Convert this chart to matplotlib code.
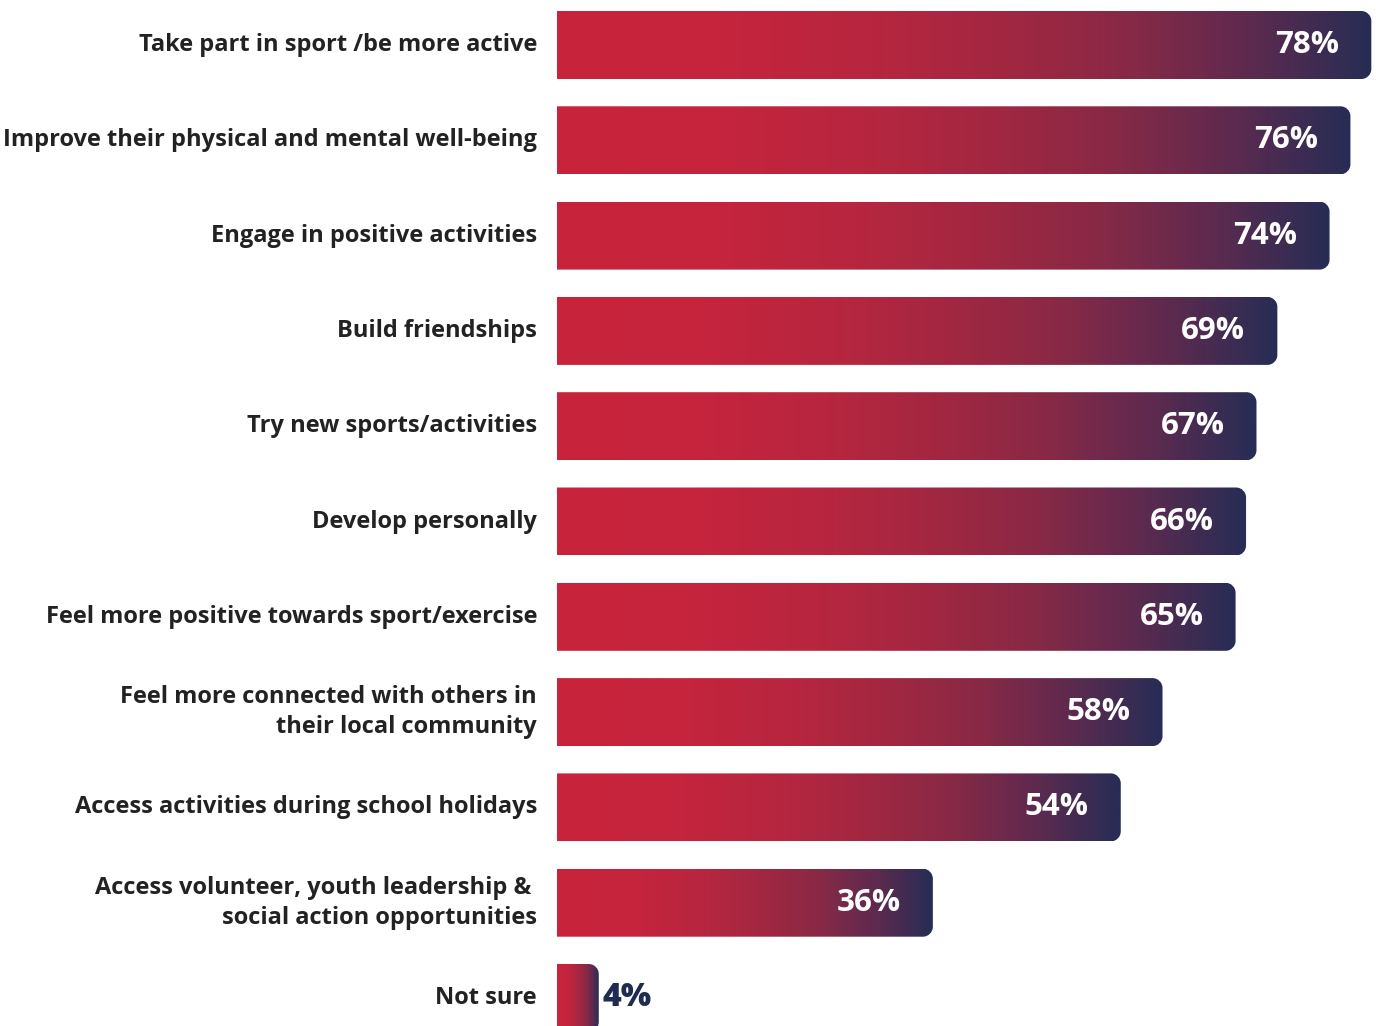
import matplotlib
matplotlib.use("Agg")
import matplotlib.pyplot as plt
import numpy as np
from matplotlib.colors import LinearSegmentedColormap
from matplotlib.path import Path
from matplotlib.patches import PathPatch

categories = [
    "Take part in sport /be more active",
    "Improve their physical and mental well-being",
    "Engage in positive activities",
    "Build friendships",
    "Try new sports/activities",
    "Develop personally",
    "Feel more positive towards sport/exercise",
    "Feel more connected with others in\ntheir local community",
    "Access activities during school holidays",
    "Access volunteer, youth leadership & \nsocial action opportunities",
    "Not sure",
]
values = [78, 76, 74, 69, 67, 66, 65, 58, 54, 36, 4]
value_labels = ["78%", "76%", "74%", "69%", "67%", "66%", "65%", "58%", "54%", "36%", "4%"]

RED_TO_NAVY = LinearSegmentedColormap.from_list(
    "red_navy",
    [(0.0, "#C8243C"), (0.2, "#C6243D"), (0.4, "#B6263F"), (0.55, "#A22741"),
     (0.7, "#882946"), (0.85, "#5E2A4F"), (1.0, "#272D55")],
)
TEXT = "#222222"
NAVY = "#1F2B50"

W, H = 1376, 1026
fig = plt.figure(figsize=(W / 100, H / 100), dpi=100)
px_per_pct = 10.44
x0 = 557
ax = fig.add_axes([x0 / W, 0, 1 - x0 / W, 1])
ax.set_xlim(0, (W - x0) / px_per_pct)
step = 95.3
ax.set_ylim(10 + (H - 998) / step, -45 / step)
ax.axis("off")

bar_h = 68 / step
rx = 10 / px_per_pct
ry = 10 / step
k = 0.5523


def right_rounded(x, y0, y1):
    # rectangle from 0..x, square left corners, rounded right corners
    verts = [
        (0, y0), (x - rx, y0),
        (x - rx + k * rx, y0), (x, y0 + ry - k * ry), (x, y0 + ry),
        (x, y1 - ry),
        (x, y1 - ry + k * ry), (x - rx + k * rx, y1), (x - rx, y1),
        (0, y1), (0, y0),
    ]
    codes = [Path.MOVETO, Path.LINETO,
             Path.CURVE4, Path.CURVE4, Path.CURVE4,
             Path.LINETO,
             Path.CURVE4, Path.CURVE4, Path.CURVE4,
             Path.LINETO, Path.CLOSEPOLY]
    return Path(verts, codes)


grad = np.linspace(0, 1, 512).reshape(1, -1)
for i, (cat, v, lab) in enumerate(zip(categories, values, value_labels)):
    y0, y1 = i - bar_h / 2, i + bar_h / 2
    patch = PathPatch(right_rounded(v, y0, y1), facecolor="none", edgecolor="none")
    ax.add_patch(patch)
    im = ax.imshow(grad, cmap=RED_TO_NAVY, aspect="auto",
                   extent=(0, v, y1, y0), interpolation="bilinear", zorder=2)
    im.set_clip_path(patch)

    if v > 10:
        ax.text(v - 32 / px_per_pct, i, lab, ha="right", va="center",
                color="white", fontsize=22.5, fontweight="bold",
                family="Open Sans", zorder=3)
    else:
        ax.text(v + 4 / px_per_pct, i, lab, ha="left", va="center",
                color=NAVY, fontsize=23, fontweight="heavy",
                family="Open Sans", zorder=3)

    ax.text(-20 / px_per_pct, i, cat, ha="right", va="center",
            color=TEXT, fontsize=17, fontweight="bold",
            family="Open Sans", linespacing=1.35, clip_on=False)

fig.savefig("out.png", dpi=100)
